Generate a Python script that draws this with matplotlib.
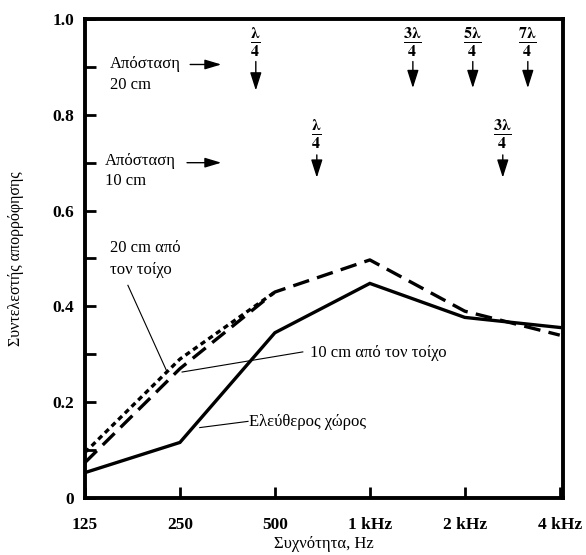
import matplotlib
matplotlib.use("Agg")
import matplotlib.pyplot as plt
import numpy as np

freqs = [125, 250, 500, 1000, 2000, 4000]
xtick_labels = ["125", "250", "500", "1 kHz", "2 kHz", "4 kHz"]
free_field = [0.053, 0.116, 0.345, 0.448, 0.377, 0.356]
wall_10cm = [0.074, 0.27, 0.43, 0.497, 0.39, 0.34]
wall_20cm = [0.095, 0.29, 0.43, np.nan, np.nan, np.nan]

plt.rcParams['font.family'] = ['Liberation Serif', 'DejaVu Serif']
plt.rcParams['mathtext.fontset'] = 'stix'

fig = plt.figure(figsize=(5.86, 5.55), dpi=100)
ax = fig.add_axes([0.145, 0.1027, 0.816, 0.8631])

ax.plot(freqs, free_field, color='black', lw=2.4, solid_joinstyle='miter')
ax.plot(freqs, wall_20cm, color='black', lw=2.4, linestyle=(0, (1.6, 1.2)))
ax.plot(freqs, wall_10cm, color='black', lw=2.4, linestyle=(0, (5, 2.5)))

ax.set_xscale('log', base=2)
ax.set_xlim(125, 4100)
ax.set_ylim(0, 1.0)
ax.set_xticks(freqs)
ax.set_xticklabels(xtick_labels)
ax.xaxis.set_minor_locator(matplotlib.ticker.NullLocator())
ax.set_yticks([0, 0.2, 0.4, 0.6, 0.8, 1.0])
ax.set_yticklabels(["0", "0.2", "0.4", "0.6", "0.8", "1.0"])
ax.set_yticks([0.1, 0.3, 0.5, 0.7, 0.9], minor=True)
ax.tick_params(axis='both', which='both', direction='in', length=8, width=2,
               labelsize=12.5)
ax.tick_params(axis='x', pad=14)
ax.tick_params(axis='y', pad=8)
for lab in ax.get_xticklabels() + ax.get_yticklabels():
    lab.set_fontweight('bold')
for s in ax.spines.values():
    s.set_linewidth(2.8)

ax.set_xlabel("Συχνότητα, Hz", fontsize=12, labelpad=2)
ax.set_ylabel("Συντελεστής απορρόφησης", fontsize=11.5, labelpad=20)

# lambda markers
def marker(f, num, yfrac, ytop, ybot):
    ax.text(f, yfrac, r'$\mathbf{\frac{%s}{4}}$' % num, ha='center', va='center', fontsize=16.5)
    ax.annotate('', xy=(f, ybot), xytext=(f, ytop),
                arrowprops=dict(arrowstyle='-|>,head_width=0.35,head_length=1.1',
                                color='black', lw=1.0))

marker(435, r'\lambda', 0.952, 0.917, 0.845)
marker(1369, r'3\lambda', 0.952, 0.917, 0.85)
marker(2120, r'5\lambda', 0.952, 0.917, 0.85)
marker(3168, r'7\lambda', 0.952, 0.917, 0.85)
marker(679, r'\lambda', 0.76, 0.722, 0.663)
marker(2639, r'3\lambda', 0.76, 0.722, 0.663)

# distance labels
ax.text(150, 0.905, "Απόσταση", fontsize=12, va='center', ha='left')
ax.text(150, 0.862, "20 cm", fontsize=12, va='center', ha='left')
ax.annotate('', xy=(345, 0.905), xytext=(264, 0.905),
            arrowprops=dict(arrowstyle='-|>,head_width=0.3,head_length=1.0', color='black', lw=1.0))
ax.text(145, 0.703, "Απόσταση", fontsize=12, va='center', ha='left')
ax.text(145, 0.661, "10 cm", fontsize=12, va='center', ha='left')
ax.annotate('', xy=(345, 0.7), xytext=(258, 0.7),
            arrowprops=dict(arrowstyle='-|>,head_width=0.3,head_length=1.0', color='black', lw=1.0))

# curve labels
ax.text(150, 0.522, "20 cm από", fontsize=12, va='center', ha='left')
ax.text(150, 0.476, "τον τοίχο", fontsize=12, va='center', ha='left')
ax.plot([171, 227], [0.444, 0.265], color='black', lw=0.8)
ax.text(645, 0.303, "10 cm από τον τοίχο", fontsize=12, va='center', ha='left')
ax.plot([254, 613], [0.263, 0.305], color='black', lw=0.8)
ax.text(415, 0.158, "Ελεύθερος χώρος", fontsize=12, va='center', ha='left')
ax.plot([289, 411], [0.147, 0.16], color='black', lw=0.8)

fig.savefig("out.png", dpi=100)
